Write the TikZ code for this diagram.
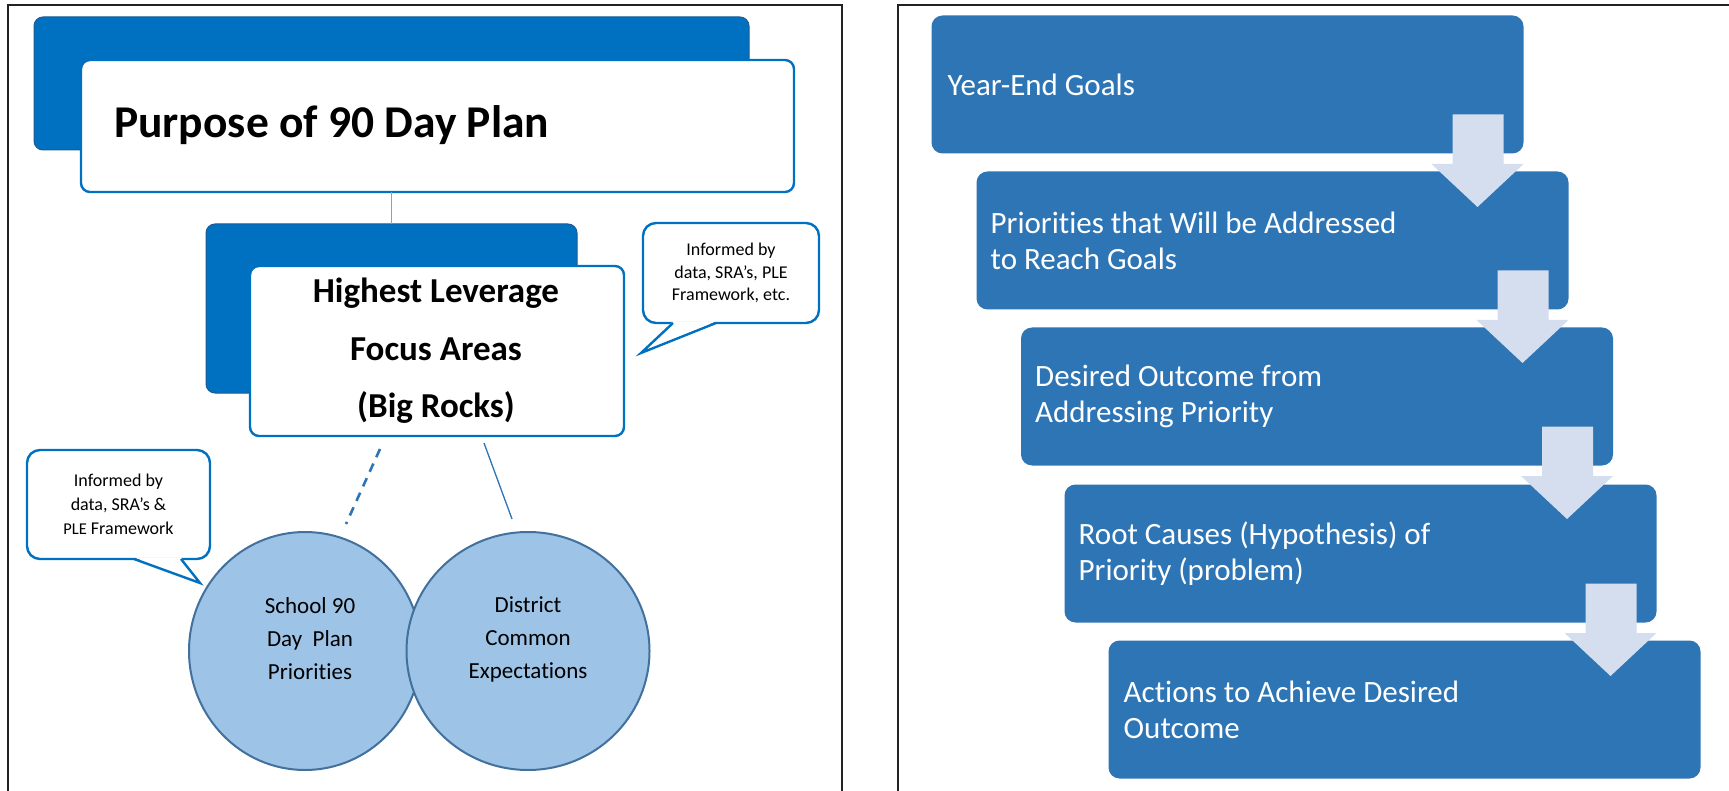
\documentclass[tikz,border=0pt]{standalone}
\usepackage{fontspec}
\setmainfont{Carlito}[Ligatures=NoCommon]
\usetikzlibrary{calc,shapes.geometric}
\definecolor{dkblue}{HTML}{0070C0}
\definecolor{backedge}{HTML}{1D5C96}
\definecolor{boxblue}{HTML}{2E75B6}
\definecolor{arrowc}{HTML}{D5DEEE}
\definecolor{circfill}{HTML}{9DC3E6}
\definecolor{circline}{HTML}{41719C}
\definecolor{thinblue}{HTML}{7FA3D3}
\definecolor{framec}{HTML}{222222}
\begin{document}
\begin{tikzpicture}[x=1pt,y=-1pt,
  frame/.style={draw=framec, line width=2.2pt},
  backbox/.style={draw=backedge, line width=1pt, fill=dkblue, rounded corners=9pt, inner sep=0pt, outer sep=0pt},
  whitebox/.style={draw=dkblue, line width=2.4pt, fill=white, rounded corners=9pt, inner sep=0pt, outer sep=0pt},
  callout/.style={draw=dkblue, line width=2.4pt, fill=white, rounded corners=13pt, inner sep=0pt, outer sep=0pt, align=center},
  circ/.style={ellipse, draw=circline, line width=2pt, fill=circfill, inner sep=0pt, outer sep=0pt},
  rbox/.style={fill=boxblue, rounded corners=11pt, inner sep=0pt, outer sep=0pt, minimum width=592pt, minimum height=138pt},
  rtext/.style={anchor=west, inner sep=0pt, text=white, align=left, font=\fontsize{31}{36}\selectfont},
  arrowfill/.style={fill=arrowc}
]
\useasboundingbox (0,0) rectangle (1729,791);
\fill[white] (0,0) rectangle (1729,791);

% panel frames
\draw[frame] (8,792) -- (8,5) -- (842,5) -- (842,792);
\draw[frame] (898,792) -- (898,5) -- (1730,5);

% ---------- left panel ----------
\node[backbox, minimum width=715pt, minimum height=133pt] (back1) at (391.5,83.5) {};
\node[whitebox, minimum width=713pt, minimum height=132pt] (white1) at (437.5,126) {};
\node[anchor=base west, inner sep=0pt] (title) at (114,138)
  {\fontsize{45.5}{54}\selectfont\bfseries Purpose of 90 Day Plan};

\node[backbox, minimum width=371pt, minimum height=169pt] (back2) at (391.5,308.5) {};
\draw[thinblue, line width=1.2pt] (back2.north |- white1.south) -- (back2.north);
\node[whitebox, minimum width=374pt, minimum height=170pt] (white2) at (437,351) {};
\node[inner sep=0pt, align=center, font=\fontsize{35}{57.5}\selectfont\bfseries] (focus) at (436,351)
  {Highest Leverage\\Focus Areas\\(Big Rocks)};

% callout top right
\node[callout, minimum width=176pt, minimum height=100pt, font=\fontsize{18}{22.5}\selectfont] (callTR) at (731,273)
  {Informed by\\data, SRA’s, PLE\\Framework, etc.};
\coordinate (tipTR) at (641,353);
\fill[white] ($(callTR.south west)+(30,-1.6)$) -- (tipTR) -- ($(callTR.south west)+(73,-1.6)$) -- cycle;
\draw[dkblue, line width=2.4pt, line join=miter] ($(callTR.south west)+(30,0)$) -- (tipTR) -- ($(callTR.south west)+(73,0)$);

% callout bottom left
\node[callout, minimum width=183pt, minimum height=109pt, font=\fontsize{18}{24}\selectfont] (callBL) at (118.5,504.5)
  {Informed by\\data, SRA’s \&\\{\fontsize{16.5}{24}\selectfont PLE} Framework};
\coordinate (tipBL) at (200,583);
\fill[white] ($(callBL.south west)+(107,-1.6)$) -- (tipBL) -- ($(callBL.south west)+(154,-1.6)$) -- cycle;
\draw[dkblue, line width=2.4pt, line join=miter] ($(callBL.south west)+(107,0)$) -- (tipBL) -- ($(callBL.south west)+(154,0)$);

% circles
\node[circ, minimum width=232pt, minimum height=238pt] (c1) at (305,651) {};
\node[circ, minimum width=243pt, minimum height=238pt] (c2) at (528,651) {};
\node[inner sep=0pt, align=center, font=\fontsize{23}{33}\selectfont] (c1t) at (310,639)
  {School 90\\Day\ \ Plan\\Priorities};
\node[inner sep=0pt, align=center, font=\fontsize{23}{33}\selectfont] (c2t) at (528,639)
  {District\\Common\\Expectations};

% connectors from focus box to circles
\coordinate (dA) at (380,449);
\coordinate (dB) at (346,524);
\draw[boxblue, line width=2.6pt, dash pattern=on 9pt off 7pt] (dA) -- (dB);
\coordinate (sA) at (484,443);
\coordinate (sB) at (512,519);
\draw[boxblue, line width=1.3pt] (sA) -- (sB);

% ---------- right panel ----------
\node[rbox] (r1) at (1227.5,84.5) {};
\node[rbox] (r2) at (1272.5,240.5) {};
\node[rbox] (r3) at (1317,396.5) {};
\node[rbox] (r4) at (1360.5,553.5) {};
\node[rbox] (r5) at (1404.5,709.5) {};

\node[rtext] (t1) at ($(r1.west)+(16,0)$) {Year-End Goals};
\node[rtext] (t2) at ($(r2.west)+(14,0)$) {Priorities that Will be Addressed\\to Reach Goals};
\node[rtext] (t3) at ($(r3.west)+(14,0)$) {Desired Outcome from\\Addressing Priority};
\node[rtext] (t4) at ($(r4.west)+(14,0)$) {Root Causes (Hypothesis) of\\Priority (problem)};
\node[rtext] (t5) at ($(r5.west)+(15,0)$) {Actions to Achieve Desired\\Outcome};

\foreach \a in {r1,r2,r3,r4} {
  \fill[arrowfill] ($(\a.south east)+(-71,-39)$) -- ($(\a.south east)+(-20,-39)$)
    -- ($(\a.south east)+(-20,10.5)$) -- ($(\a.south east)+(0,10.5)$)
    -- ($(\a.south east)+(-46,53.5)$) -- ($(\a.south east)+(-92,10.5)$)
    -- ($(\a.south east)+(-71,10.5)$) -- cycle;
}
\end{tikzpicture}
\end{document}
